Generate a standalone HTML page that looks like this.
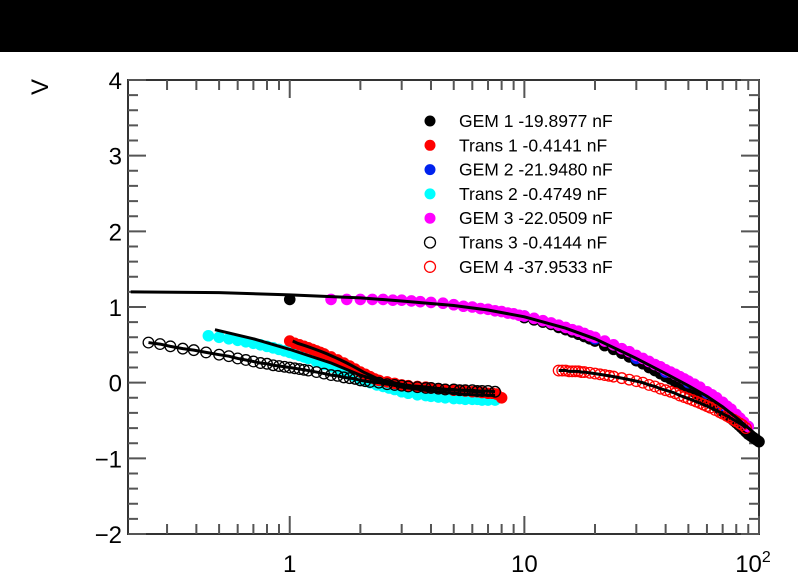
<!DOCTYPE html>
<html><head><meta charset="utf-8"><style>
body{margin:0;width:798px;height:575px;overflow:hidden;background:#fff;font-family:"Liberation Sans",sans-serif}
</style></head><body>
<svg id="chart" width="798" height="575" xmlns="http://www.w3.org/2000/svg" font-family="Liberation Sans, sans-serif">
<rect x="0" y="0" width="798" height="52" fill="#000"/>
<g id="plot"></g>
</svg>
<script>
const xMin=0.2045, xMax=100, yMin=-2, yMax=4;
const L=128, R=759, T=80, B=534;
const yTicks=[-2,-1,0,1,2,3,4];
const yTickLabels=["\u22122","\u22121","0","1","2","3","4"];
const xMajor=[1,10,100];
const xMajorLabels=["1","10","10"];
const seriesNames=["GEM 1 -19.8977 nF","Trans 1 -0.4141 nF","GEM 2 -21.9480 nF","Trans 2 -0.4749 nF","GEM 3 -22.0509 nF","Trans 3 -0.4144 nF","GEM 4 -37.9533 nF"];
const seriesColors=["#000","#f00","#0022ee","#00ffff","#ff00ff","#000","#f00"];
const seriesOpen=[false,false,false,false,false,true,true];
const gem1X=[1,10,11,12,13,14,15,16,17,18,19,20,22,24,26,28,30,32,34,36,38,40,42,44,46,48,50,52,54,56,58,60,62,64,66,68,70,72,74,76,78,80,82,84,86,88,90,92,94,96,98,100];
const gem1Y=[1.1,0.86,0.83,0.8,0.77,0.73,0.7,0.67,0.64,0.61,0.58,0.55,0.49,0.44,0.39,0.34,0.29,0.25,0.2,0.16,0.12,0.08,0.05,0.01,-0.02,-0.05,-0.08,-0.11,-0.14,-0.17,-0.2,-0.23,-0.26,-0.29,-0.32,-0.35,-0.38,-0.41,-0.44,-0.47,-0.5,-0.53,-0.56,-0.59,-0.62,-0.65,-0.68,-0.7,-0.72,-0.74,-0.76,-0.78];
const trans1X=[1,1.05,1.1,1.15,1.2,1.25,1.3,1.35,1.4,1.5,1.6,1.7,1.8,1.9,2,2.1,2.2,2.3,2.4,2.6,2.8,3,3.2,3.5,3.8,4,4.3,4.6,5,5.3,5.6,6,6.3,6.6,7,7.3,7.6,8];
const trans1Y=[0.55,0.52,0.5,0.48,0.46,0.44,0.42,0.4,0.38,0.34,0.3,0.26,0.22,0.18,0.14,0.11,0.08,0.05,0.03,0.01,-0.01,-0.03,-0.04,-0.05,-0.06,-0.07,-0.08,-0.09,-0.1,-0.1,-0.11,-0.12,-0.12,-0.13,-0.14,-0.14,-0.15,-0.2];
const gem2X=[10,20,30,40,50,60,70,80,90];
const gem2Y=[0.88,0.58,0.32,0.14,0.0,-0.14,-0.3,-0.45,-0.58];
const trans2X=[0.45,0.5,0.55,0.6,0.65,0.7,0.75,0.8,0.85,0.9,0.95,1,1.05,1.1,1.15,1.2,1.3,1.4,1.5,1.6,1.7,1.8,1.9,2,2.1,2.2,2.35,2.5,2.65,2.8,3,3.2,3.5,3.8,4,4.3,4.6,5,5.3,5.6,6,6.3,6.6,7,7.5];
const trans2Y=[0.62,0.6,0.58,0.56,0.54,0.52,0.5,0.48,0.46,0.44,0.42,0.4,0.38,0.36,0.34,0.32,0.28,0.24,0.21,0.18,0.14,0.11,0.08,0.05,0.02,0.0,-0.03,-0.05,-0.07,-0.09,-0.12,-0.14,-0.16,-0.17,-0.18,-0.19,-0.2,-0.21,-0.21,-0.22,-0.22,-0.22,-0.23,-0.23,-0.23];
const gem3X=[1.5,1.75,2,2.25,2.5,2.75,3,3.3,3.6,4,4.5,5,5.5,6,6.5,7,7.5,8,8.5,9,9.5,10,11,12,13,14,15,16,17,18,19,20,22,24,26,28,30,32,34,36,38,40,42,44,46,48,50,53,56,60,63,66,70,73,76,80,83,86,90];
const gem3Y=[1.1,1.1,1.1,1.1,1.1,1.09,1.09,1.08,1.07,1.06,1.05,1.03,1.01,1.0,0.98,0.97,0.95,0.94,0.92,0.91,0.89,0.88,0.85,0.82,0.79,0.76,0.73,0.7,0.68,0.65,0.62,0.6,0.55,0.5,0.45,0.41,0.36,0.32,0.28,0.24,0.21,0.17,0.14,0.11,0.08,0.05,0.02,-0.02,-0.06,-0.12,-0.16,-0.2,-0.26,-0.31,-0.35,-0.42,-0.47,-0.52,-0.58];
const trans3X=[0.25,0.28,0.31,0.35,0.39,0.44,0.5,0.55,0.6,0.65,0.7,0.75,0.8,0.85,0.9,0.95,1,1.05,1.1,1.15,1.2,1.3,1.4,1.5,1.6,1.7,1.8,1.9,2,2.1,2.2,2.4,2.6,2.8,3,3.2,3.5,3.8,4,4.3,4.6,5,5.3,5.6,6,6.3,6.6,7,7.5];
const trans3Y=[0.53,0.51,0.48,0.45,0.43,0.4,0.37,0.35,0.32,0.3,0.28,0.26,0.25,0.23,0.22,0.21,0.2,0.19,0.18,0.17,0.16,0.14,0.12,0.1,0.09,0.07,0.06,0.05,0.03,0.02,0.01,0,-0.02,-0.03,-0.04,-0.05,-0.06,-0.07,-0.07,-0.08,-0.09,-0.09,-0.1,-0.1,-0.1,-0.11,-0.11,-0.11,-0.12];
const gem4X=[14,14.5,15,15.5,16,16.5,17,17.5,18,19,20,21,22,23,24,26,28,30,32,34,36,38,40,42,44,46,48,50,52,54,56,58,60,62,65,68,70,73,75,78,80,83,85,88];
const gem4Y=[0.16,0.16,0.16,0.15,0.15,0.15,0.15,0.14,0.14,0.13,0.12,0.11,0.1,0.09,0.08,0.06,0.04,0.02,0.0,-0.03,-0.05,-0.08,-0.1,-0.12,-0.14,-0.17,-0.19,-0.21,-0.23,-0.25,-0.27,-0.29,-0.31,-0.33,-0.36,-0.39,-0.41,-0.44,-0.46,-0.49,-0.51,-0.54,-0.56,-0.6];
const fitGEMX=[0.21,0.5,1,2,3,5,7,10,15,20,30,40,50,60,70,80,95];
const fitGEMY=[1.2,1.19,1.16,1.12,1.08,1.02,0.96,0.87,0.72,0.58,0.32,0.12,-0.04,-0.18,-0.32,-0.46,-0.66];
const fitT2X=[0.48,0.7,1,1.5,2,2.5,3,4,5,6,7.5];
const fitT2Y=[0.7,0.58,0.44,0.26,0.1,0.0,-0.06,-0.11,-0.14,-0.16,-0.17];
const allX=[gem1X,trans1X,gem2X,trans2X,gem3X,trans3X,gem4X];
const allY=[gem1Y,trans1Y,gem2Y,trans2Y,gem3Y,trans3Y,gem4Y];
const drawOrder=[0,2,4,6,3,1,5];

const sx=v=>L+(Math.log10(v)-Math.log10(xMin))/(Math.log10(xMax)-Math.log10(xMin))*(R-L);
const sy=v=>B-(v-yMin)/(yMax-yMin)*(B-T);
const NS="http://www.w3.org/2000/svg";
const g=document.getElementById('plot');
function mk(tag,attrs,parent){const e=document.createElementNS(NS,tag);for(const k in attrs)e.setAttribute(k,attrs[k]);(parent||g).appendChild(e);return e;}

let fr=mk('rect',{x:L,y:T,width:R-L,height:B-T,fill:'none',stroke:'#333','stroke-width':2});


for(let i=0;i<=30;i++){const v=yMin+i*0.2;const y=sy(v);const major=i%5===0;const len=major?18:10;
 let t=mk('path',{d:`M${L} ${y}H${L+len}M${R} ${y}H${R-len}`,stroke:'#555','stroke-width':2});
 
 }
yTicks.forEach((v,i)=>{let t=mk('text',{x:L-6,y:sy(v)+9,'text-anchor':'end','font-size':24,fill:'#000'});t.textContent=yTickLabels[i];
 
 });
for(let d=-1;d<=1;d++){for(let m=1;m<=9;m++){const v=m*Math.pow(10,d);if(v<xMin||v>xMax)continue;const x=sx(v);const len=m===1?18:10;
 let t=mk('path',{d:`M${x} ${B}V${B-len}M${x} ${T}V${T+len}`,stroke:'#555','stroke-width':2});
 
 }}
let x100=sx(100);
mk('path',{d:`M${x100} ${B}V${B-18}M${x100} ${T}V${T+18}`,stroke:'#555','stroke-width':2});
xMajor.forEach((v,i)=>{let t=mk('text',{x:sx(v)+(i===2?-6:0),y:B+38,'text-anchor':'middle','font-size':24,fill:'#000'});t.textContent=xMajorLabels[i];
 
 
 if(i===2){let s=mk('tspan',{dy:-10,'font-size':16},t);s.textContent='2';}});
let yt=mk('text',{x:0,y:0,transform:'translate(48,87) rotate(-90)','text-anchor':'middle','font-size':24,fill:'#000'});yt.textContent='V';



drawOrder.forEach(si=>{const grp=mk('g',{});
 
 
 allX[si].forEach((xv,j)=>{let c=mk('circle',{cx:sx(xv),cy:sy(allY[si][j]),r:seriesOpen[si]?5.3:5.8,fill:seriesOpen[si]?'none':seriesColors[si],stroke:seriesColors[si],'stroke-width':seriesOpen[si]?1.3:0},grp);
  
  });});
function fit(xs,ys,name){let p=mk('polyline',{points:xs.map((x,i)=>sx(x)+','+sy(ys[i])).join(' '),fill:'none',stroke:'#000','stroke-width':3});
 
 }
fit(fitGEMX,fitGEMY,'fit-line-gem');
fit(trans1X.slice(0,34).map(x=>x*1.03),trans1Y.slice(0,34),'fit-line-trans1');
fit(fitT2X,fitT2Y,'fit-line-trans2');
fit(trans3X,trans3Y,'fit-line-trans3');
fit(gem4X,gem4Y,'fit-line-gem4');

const leg=mk('g',{});


seriesNames.forEach((n,i)=>{const y=121+i*24.3;
 let c=mk('circle',{cx:430,cy:y,r:5.5,fill:seriesOpen[i]?'none':seriesColors[i],stroke:seriesColors[i],'stroke-width':seriesOpen[i]?1.3:0},leg);
 
 
 let t=mk('text',{x:459,y:y+6,'font-size':17.5,fill:'#000'},leg);t.textContent=n;
 
 });
</script>
</body></html>
